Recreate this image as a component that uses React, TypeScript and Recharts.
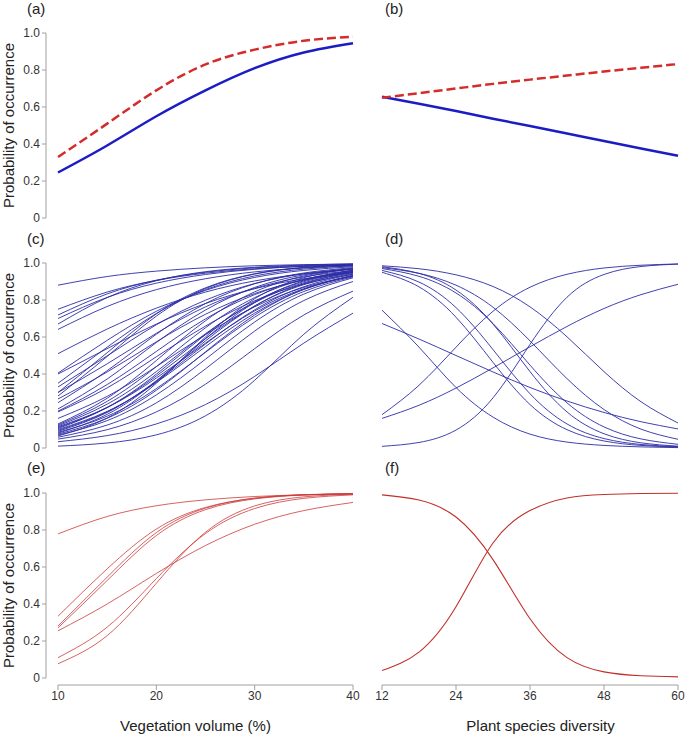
import React from 'react';
import { LineChart, Line, XAxis, YAxis } from 'recharts';

// x positions the curves were read at
const VOL_X = [10, 15, 20, 25, 30, 35, 40];
const DIV_X = [12, 18, 24, 30, 36, 42, 48, 54, 60];
const VOL_TICKS = [10, 20, 30, 40];
const DIV_TICKS = [12, 24, 36, 48, 60];
const PROB_TICKS = [0, 0.2, 0.4, 0.6, 0.8, 1];
const PANEL_LABELS = ['(a)', '(b)', '(c)', '(d)', '(e)', '(f)'];
const X_TITLES = ['Vegetation volume (%)', 'Plant species diversity'];
const Y_TITLE = 'Probability of occurrence';

// (a) vegetation volume: solid blue and dashed red model
const aSolid = [0.246, 0.392, 0.55, 0.69, 0.81, 0.895, 0.945];
const aDashed = [0.33, 0.51, 0.69, 0.83, 0.91, 0.958, 0.98];

// (b) plant species diversity
const bSolid = [0.655, 0.618, 0.578, 0.537, 0.497, 0.457, 0.416, 0.376, 0.337];
const bDashed = [0.65, 0.675, 0.7, 0.725, 0.748, 0.77, 0.792, 0.812, 0.832];

// (c) one curve per species, vegetation volume
const cCurves = [
  [0.88, 0.927, 0.956, 0.974, 0.985, 0.991, 0.995],
  [0.75, 0.843, 0.906, 0.945, 0.969, 0.982, 0.99],
  [0.719, 0.833, 0.907, 0.95, 0.974, 0.986, 0.993],
  [0.7, 0.814, 0.891, 0.938, 0.966, 0.982, 0.99],
  [0.67, 0.813, 0.904, 0.953, 0.977, 0.989, 0.995],
  [0.641, 0.765, 0.856, 0.915, 0.952, 0.973, 0.985],
  [0.51, 0.643, 0.756, 0.843, 0.903, 0.941, 0.965],
  [0.405, 0.582, 0.739, 0.852, 0.922, 0.96, 0.98],
  [0.4, 0.537, 0.67, 0.781, 0.861, 0.915, 0.95],
  [0.35, 0.545, 0.727, 0.856, 0.93, 0.967, 0.985],
  [0.33, 0.498, 0.666, 0.799, 0.889, 0.942, 0.97],
  [0.3, 0.455, 0.62, 0.763, 0.863, 0.925, 0.96],
  [0.281, 0.495, 0.713, 0.862, 0.94, 0.975, 0.99],
  [0.265, 0.411, 0.574, 0.723, 0.835, 0.907, 0.95],
  [0.245, 0.418, 0.615, 0.781, 0.888, 0.946, 0.975],
  [0.211, 0.373, 0.57, 0.746, 0.868, 0.936, 0.97],
  [0.199, 0.343, 0.522, 0.698, 0.829, 0.911, 0.955],
  [0.195, 0.325, 0.493, 0.659, 0.796, 0.886, 0.94],
  [0.16, 0.279, 0.44, 0.613, 0.763, 0.868, 0.93],
  [0.125, 0.252, 0.44, 0.65, 0.813, 0.911, 0.96],
  [0.12, 0.237, 0.413, 0.618, 0.786, 0.893, 0.95],
  [0.11, 0.219, 0.389, 0.591, 0.768, 0.883, 0.945],
  [0.105, 0.219, 0.399, 0.613, 0.791, 0.899, 0.955],
  [0.1, 0.198, 0.354, 0.548, 0.729, 0.857, 0.93],
  [0.095, 0.195, 0.359, 0.562, 0.747, 0.872, 0.94],
  [0.09, 0.192, 0.364, 0.579, 0.767, 0.888, 0.95],
  [0.085, 0.172, 0.321, 0.517, 0.707, 0.846, 0.925],
  [0.08, 0.182, 0.361, 0.591, 0.786, 0.904, 0.96],
  [0.075, 0.161, 0.312, 0.52, 0.719, 0.858, 0.935],
  [0.07, 0.148, 0.287, 0.48, 0.681, 0.832, 0.92],
  [0.065, 0.162, 0.35, 0.6, 0.807, 0.921, 0.97],
  [0.058, 0.124, 0.244, 0.428, 0.632, 0.797, 0.9],
  [0.048, 0.099, 0.195, 0.345, 0.537, 0.719, 0.848],
  [0.034, 0.067, 0.13, 0.235, 0.387, 0.567, 0.729],
  [0.01, 0.027, 0.071, 0.174, 0.366, 0.615, 0.815],
  [0.3, 0.515, 0.725, 0.866, 0.942, 0.976, 0.99],
  [0.115, 0.219, 0.378, 0.567, 0.741, 0.861, 0.93],
  [0.13, 0.269, 0.473, 0.688, 0.844, 0.93, 0.97],
];

// (d) one curve per species, plant species diversity
const dCurves = [
  [0.18, 0.339, 0.545, 0.739, 0.869, 0.939, 0.973, 0.988, 0.995],
  [0.16, 0.231, 0.324, 0.433, 0.547, 0.657, 0.754, 0.829, 0.885],
  [0.009, 0.03, 0.097, 0.271, 0.56, 0.815, 0.938, 0.981, 0.994],
  [0.985, 0.969, 0.936, 0.873, 0.763, 0.601, 0.413, 0.25, 0.135],
  [0.975, 0.944, 0.88, 0.761, 0.579, 0.375, 0.208, 0.102, 0.047],
  [0.97, 0.928, 0.838, 0.673, 0.448, 0.244, 0.114, 0.049, 0.02],
  [0.96, 0.897, 0.759, 0.532, 0.293, 0.13, 0.051, 0.019, 0.007],
  [0.95, 0.871, 0.707, 0.463, 0.235, 0.099, 0.038, 0.014, 0.005],
  [0.98, 0.944, 0.854, 0.67, 0.413, 0.195, 0.077, 0.028, 0.01],
  [0.745, 0.545, 0.327, 0.167, 0.075, 0.032, 0.014, 0.006, 0.002],
  [0.673, 0.589, 0.5, 0.411, 0.327, 0.254, 0.192, 0.142, 0.103],
];

// (e) red group, vegetation volume
const eCurves = [
  [0.779, 0.873, 0.931, 0.963, 0.981, 0.99, 0.995],
  [0.334, 0.59, 0.805, 0.922, 0.972, 0.99, 0.996],
  [0.281, 0.545, 0.786, 0.918, 0.972, 0.991, 0.997],
  [0.271, 0.527, 0.77, 0.91, 0.968, 0.989, 0.996],
  [0.255, 0.4, 0.565, 0.716, 0.831, 0.905, 0.949],
  [0.11, 0.275, 0.537, 0.781, 0.916, 0.971, 0.99],
  [0.077, 0.229, 0.512, 0.788, 0.93, 0.979, 0.994],
];

// (f) red group, plant species diversity
const fCurves = [
  [0.99, 0.962, 0.87, 0.64, 0.32, 0.11, 0.033, 0.012, 0.006],
  [0.04, 0.14, 0.385, 0.73, 0.905, 0.973, 0.992, 0.997, 0.999],
];

const FONT = '"Liberation Sans", Arial, Helvetica, sans-serif';
const AXIS_COLOR = '#a0a0a0';
const TEXT_COLOR = '#333';
const BLUE = '#1c1cc4';
const RED = '#d42b2b';
const THIN_BLUE = '#2b2ba6';
const THIN_RED = '#cc3a3a';
const TICK_FONT = 12;

const AXIS_X = 46; // y axis line, left column chart coords
const PLOT_H = 185;

type Row = { x: number; [k: string]: number };
type LineStyle = { stroke: string; width: number; dash?: string };

function buildRows(xs: number[], series: number[][]): Row[] {
  return xs.map((x, i) => {
    const row: Row = { x };
    series.forEach((s, k) => {
      row['s' + k] = s[i];
    });
    return row;
  });
}

function YTick(props: any) {
  const { y, payload } = props;
  const v = payload.value as number;
  return (
    <g>
      {v === 0 && (
        <line x1={AXIS_X} x2={AXIS_X} y1={y} y2={y - PLOT_H} stroke={AXIS_COLOR} />
      )}
      <line x1={AXIS_X - 4} x2={AXIS_X} y1={y} y2={y} stroke={AXIS_COLOR} />
      <text
        x={AXIS_X - 6}
        y={y}
        dy="0.36em"
        textAnchor="end"
        fontSize={TICK_FONT}
        fill={TEXT_COLOR}
        fontFamily={FONT}
      >
        {v === 0 ? '0' : v.toFixed(1)}
      </text>
    </g>
  );
}

const COLS = [
  { x: 0, w: 360, ml: 0, mr: 7 },
  { x: 360, w: 325, ml: 22, mr: 7 },
];
const ROWS = [
  { y: 0, h: 230 },
  { y: 230, h: 230 },
  { y: 460, h: 276 },
];

interface PanelProps {
  col: number;
  row: number;
  rows: Row[];
  styles: LineStyle[];
  domain: [number, number];
  ticks: number[];
}

function Panel({ col, row, rows, styles, domain, ticks }: PanelProps) {
  const c = COLS[col];
  const r = ROWS[row];
  const bottom = row === 2;
  return (
    <div style={{ position: 'absolute', left: c.x, top: r.y }}>
      <LineChart
        width={c.w}
        height={r.h}
        data={rows}
        margin={{ top: 33, right: c.mr, left: c.ml, bottom: bottom ? 0 : 12 }}
      >
        <XAxis
          type="number"
          dataKey="x"
          domain={domain}
          ticks={ticks}
          interval={0}
          hide={!bottom}
          height={51}
          axisLine={{ stroke: AXIS_COLOR }}
          tickLine={{ stroke: AXIS_COLOR }}
          tickSize={5}
          tickMargin={1}
          tick={{ fontSize: TICK_FONT, fill: TEXT_COLOR, fontFamily: FONT }}
        />
        <YAxis
          type="number"
          domain={[0, 1]}
          ticks={PROB_TICKS}
          interval={0}
          hide={col === 1}
          width={58}
          padding={{ top: 0, bottom: bottom ? 7 : 0 }}
          axisLine={false}
          tickLine={false}
          tick={YTick}
        />
        {styles.map((s, k) => (
          <Line
            key={k}
            dataKey={'s' + k}
            type="natural"
            stroke={s.stroke}
            strokeWidth={s.width}
            strokeDasharray={s.dash}
            dot={false}
            activeDot={false}
            isAnimationActive={false}
          />
        ))}
      </LineChart>
    </div>
  );
}

const thin = (n: number, stroke: string, width: number): LineStyle[] =>
  Array.from({ length: n }, () => ({ stroke, width }));

export default function App() {
  const pair: LineStyle[] = [
    { stroke: BLUE, width: 2.5 },
    { stroke: RED, width: 2.5, dash: '9 4' },
  ];
  const labelPos = [
    [27, 13.5],
    [385, 13.5],
    [27, 243.5],
    [385, 243.5],
    [27, 473],
    [385, 473],
  ];
  const yTitleY = [125.5, 355.5, 585.5];
  const xTitleX = [195.5, 540.5];

  return (
    <div
      style={{
        position: 'absolute',
        left: 0,
        top: 0,
        width: 685,
        height: 736,
        background: '#fff',
        overflow: 'hidden',
      }}
    >
      <Panel col={0} row={0} rows={buildRows(VOL_X, [aSolid, aDashed])} styles={pair} domain={[10, 40]} ticks={VOL_TICKS} />
      <Panel col={1} row={0} rows={buildRows(DIV_X, [bSolid, bDashed])} styles={pair} domain={[12, 60]} ticks={DIV_TICKS} />
      <Panel col={0} row={1} rows={buildRows(VOL_X, cCurves)} styles={thin(cCurves.length, THIN_BLUE, 0.9)} domain={[10, 40]} ticks={VOL_TICKS} />
      <Panel col={1} row={1} rows={buildRows(DIV_X, dCurves)} styles={thin(dCurves.length, THIN_BLUE, 0.9)} domain={[12, 60]} ticks={DIV_TICKS} />
      <Panel col={0} row={2} rows={buildRows(VOL_X, eCurves)} styles={thin(eCurves.length, THIN_RED, 0.8)} domain={[10, 40]} ticks={VOL_TICKS} />
      <Panel col={1} row={2} rows={buildRows(DIV_X, fCurves)} styles={thin(fCurves.length, '#c0302a', 1.1)} domain={[12, 60]} ticks={DIV_TICKS} />
      <svg
        width={685}
        height={736}
        style={{ position: 'absolute', left: 0, top: 0, pointerEvents: 'none' }}
        fontFamily={FONT}
        fill="#222"
      >
        {PANEL_LABELS.map((t, i) => (
          <text key={t} x={labelPos[i][0]} y={labelPos[i][1]} fontSize={15}>
            {t}
          </text>
        ))}
        {yTitleY.map((y, i) => (
          <text key={'y' + i} transform={`translate(14,${y}) rotate(-90)`} textAnchor="middle" fontSize={15}>
            {Y_TITLE}
          </text>
        ))}
        {X_TITLES.map((t, i) => (
          <text key={t} x={xTitleX[i]} y={731} textAnchor="middle" fontSize={15}>
            {t}
          </text>
        ))}
      </svg>
    </div>
  );
}
